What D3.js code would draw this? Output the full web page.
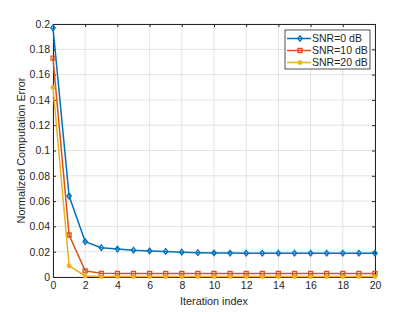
<!DOCTYPE html>
<html>
<head>
<meta charset="utf-8">
<script src="https://cdn.jsdelivr.net/npm/d3@7"></script>
<style>
  body { margin: 0; background: #fff; }
  text { font-family: "Liberation Sans", Arial, sans-serif; fill: #262626; }
</style>
</head>
<body>
<div id="chart"></div>
<script>
/** Data. */
const ITERATIONS = d3.range(0, 21);
const SNR_0 = [0.197, 0.064, 0.028, 0.0232, 0.0221, 0.0212, 0.0206, 0.0202, 0.0196, 0.0192,
    0.019, 0.0189, 0.0188, 0.0188, 0.0188, 0.0188, 0.0188, 0.0188, 0.0188, 0.0188, 0.0188];
const SNR_10 = [0.173, 0.0332, 0.0048, 0.0029, 0.0028, 0.0028, 0.0028, 0.0028, 0.0028, 0.0028,
    0.0028, 0.0028, 0.0028, 0.0028, 0.0028, 0.0028, 0.0028, 0.0028, 0.0028, 0.0028, 0.0028];
const SNR_20 = [0.150, 0.0089, 0.0008, 0.0003, 0.0003, 0.0003, 0.0003, 0.0003, 0.0003, 0.0003,
    0.0003, 0.0003, 0.0003, 0.0003, 0.0003, 0.0003, 0.0003, 0.0003, 0.0003, 0.0003, 0.0003];
const SERIES_NAMES = ["SNR=0 dB", "SNR=10 dB", "SNR=20 dB"];
const X_TICKS = d3.range(0, 21, 2);
const Y_TICKS = d3.range(0, 0.2001, 0.02);

const WIDTH = 415;
const HEIGHT = 312;
const MARGIN = {left: 53, right: 40, top: 24, bottom: 35};
const VIEW_WIDTH = WIDTH - MARGIN.left - MARGIN.right;
const VIEW_HEIGHT = HEIGHT - MARGIN.top - MARGIN.bottom;
const COLORS = ["#0072BD", "#D95319", "#EDB120"];
const AXIS_COLOR = "#262626";

const x = d3.scaleLinear().domain([0, 20]).range([0, VIEW_WIDTH]);
const y = d3.scaleLinear().domain([0, 0.2]).range([VIEW_HEIGHT, 0]);

const series = [SNR_0, SNR_10, SNR_20].map((vals, i) => ({
    name: SERIES_NAMES[i],
    color: COLORS[i],
    marker: ["diamond", "square", "star"][i],
    points: vals.map((v, j) => ({x: ITERATIONS[j], y: v})),
}));

const svg = d3.select("#chart").append("svg")
    .attr("width", WIDTH)
    .attr("height", HEIGHT);
const g = svg.append("g")
    .attr("transform", `translate(${MARGIN.left},${MARGIN.top})`);

// Grid
g.append("g").selectAll("line").data(X_TICKS).join("line")
    .attr("x1", d => x(d)).attr("x2", d => x(d))
    .attr("y1", 0).attr("y2", VIEW_HEIGHT)
    .attr("stroke", "#e3e3e3").attr("stroke-width", 1);
g.append("g").selectAll("line").data(Y_TICKS).join("line")
    .attr("x1", 0).attr("x2", VIEW_WIDTH)
    .attr("y1", d => y(d)).attr("y2", d => y(d))
    .attr("stroke", "#e3e3e3").attr("stroke-width", 1);

// Axes (MATLAB box style, inward ticks)
const xAxis = d3.axisBottom(x).tickValues(X_TICKS).tickSizeInner(-3).tickSizeOuter(0).tickPadding(5);
const yAxis = d3.axisLeft(y).tickValues(Y_TICKS).tickSizeInner(-3).tickSizeOuter(0).tickPadding(3)
    .tickFormat(d => d3.format("~g")(+d.toFixed(2)));

function styleAxis(sel) {
    sel.selectAll("path, line").attr("stroke", AXIS_COLOR);
    sel.selectAll("text").attr("font-size", 10.5).attr("fill", AXIS_COLOR)
        .attr("font-family", "Liberation Sans, Arial, sans-serif");
}

g.append("g").attr("transform", `translate(0,${VIEW_HEIGHT})`).call(xAxis).call(styleAxis);
g.append("g").call(yAxis).call(styleAxis);
g.append("g").call(d3.axisTop(x).tickValues(X_TICKS).tickSizeInner(-3).tickSizeOuter(0).tickFormat(""))
    .call(styleAxis);
g.append("g").attr("transform", `translate(${VIEW_WIDTH},0)`)
    .call(d3.axisRight(y).tickValues(Y_TICKS).tickSizeInner(-3).tickSizeOuter(0).tickFormat(""))
    .call(styleAxis);

// Lines
const line = d3.line().x(d => x(d.x)).y(d => y(d.y));

function markerPath(type) {
    if (type === "diamond") return "M0,-2.8L2.2,0L0,2.8L-2.2,0Z";
    if (type === "square") return "M-2,-2H2V2H-2Z";
    return "M-2.4,0H2.4M0,-2.4V2.4M-1.7,-1.7L1.7,1.7M-1.7,1.7L1.7,-1.7";
}

series.forEach(s => {
    const sg = g.append("g");
    sg.append("path")
        .attr("d", line(s.points))
        .attr("fill", "none")
        .attr("stroke", s.color)
        .attr("stroke-width", 1.5);
    sg.selectAll("path.mk").data(s.points).join("path")
        .attr("class", "mk")
        .attr("transform", d => `translate(${x(d.x)},${y(d.y)})`)
        .attr("d", markerPath(s.marker))
        .attr("fill", "none")
        .attr("stroke", s.color)
        .attr("stroke-width", 1.3);
});

// Axis labels
svg.append("text")
    .attr("x", MARGIN.left + VIEW_WIDTH / 2)
    .attr("y", HEIGHT - 7)
    .attr("text-anchor", "middle")
    .attr("font-size", 10.8)
    .text("Iteration index");
svg.append("text")
    .attr("transform", `translate(24.5,${MARGIN.top + VIEW_HEIGHT / 2}) rotate(-90)`)
    .attr("text-anchor", "middle")
    .attr("font-size", 10.8)
    .text("Normalized Computation Error");

// Legend
const legend = svg.append("g").attr("transform", "translate(285,30)");
legend.append("rect")
    .attr("width", 85).attr("height", 39)
    .attr("fill", "#fff").attr("stroke", AXIS_COLOR).attr("stroke-width", 0.8);
series.forEach((s, i) => {
    const row = legend.append("g").attr("transform", `translate(0,${8.5 + i * 12})`);
    row.append("line").attr("x1", 2).attr("x2", 26)
        .attr("stroke", s.color).attr("stroke-width", 1.5);
    row.append("path").attr("transform", "translate(15,0)")
        .attr("d", markerPath(s.marker))
        .attr("fill", "none").attr("stroke", s.color).attr("stroke-width", 1.3);
    row.append("text").attr("x", 27).attr("y", 3.8)
        .attr("font-size", 10.5)
        .text(s.name);
});
</script>
</body>
</html>
